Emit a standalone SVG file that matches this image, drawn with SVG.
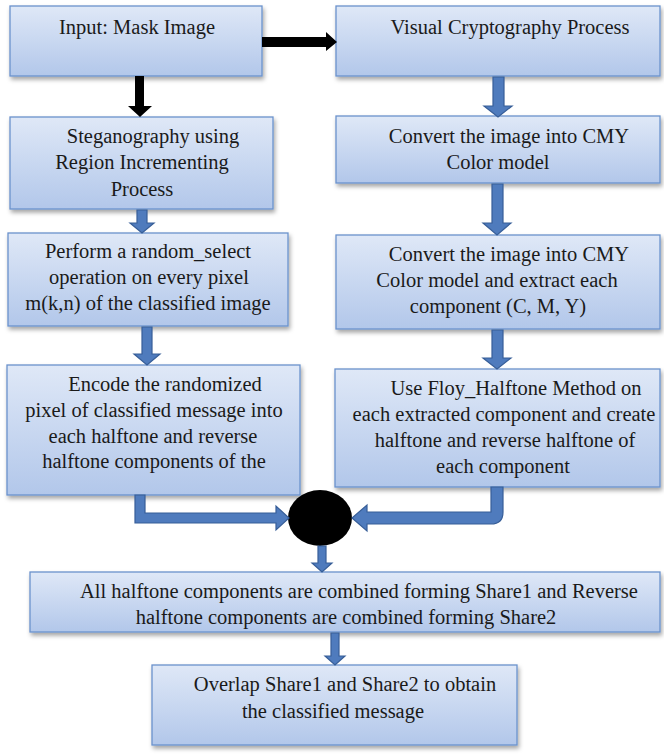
<svg xmlns="http://www.w3.org/2000/svg" width="664" height="754" viewBox="0 0 664 754">
  <defs>
    <linearGradient id="boxFill" x1="0" y1="0" x2="0" y2="1">
      <stop offset="0" stop-color="#dfe8f7"/>
      <stop offset="1" stop-color="#b2c7ea"/>
    </linearGradient>
    <filter id="shadow" x="-5%" y="-10%" width="112%" height="130%">
      <feDropShadow dx="1.5" dy="3" stdDeviation="2" flood-color="#000" flood-opacity="0.35"/>
    </filter>
  </defs>
  <style>
    .box { fill: url(#boxFill); stroke: #6a92cc; stroke-width: 1.3; filter: url(#shadow); }
    .lbl { font-size: 20.5px; fill: #1a1a1a; text-anchor: middle; }
    .blk { fill: #000; }
    .blu { fill: #4f7bbd; stroke: #375e98; stroke-width: 1.2; }
  </style>

  <!-- process steps -->
  <g font-family="'Liberation Serif', Tinos, 'Times New Roman', Times, 'DejaVu Serif', serif">
  <g id="input-mask">
    <rect class="box" x="10" y="6" width="252" height="70"/>
    <text class="lbl" x="137" y="34">Input: Mask Image</text>
  </g>
  <g id="vc-process">
    <rect class="box" x="336" y="6" width="324" height="70"/>
    <text class="lbl" x="510" y="34">Visual Cryptography Process</text>
  </g>
  <g id="steganography">
    <rect class="box" x="10" y="117" width="263" height="92"/>
    <text class="lbl" x="153" y="143">Steganography using</text>
    <text class="lbl" x="142" y="169">Region Incrementing</text>
    <text class="lbl" x="142" y="196">Process</text>
  </g>
  <g id="random-select">
    <rect class="box" x="8" y="233" width="280" height="93"/>
    <text class="lbl" x="148" y="258">Perform a random_select</text>
    <text class="lbl" x="149" y="284">operation on every pixel</text>
    <text class="lbl" x="148" y="310">m(k,n) of the classified image</text>
  </g>
  <g id="encode">
    <rect class="box" x="7" y="365" width="293" height="130"/>
    <text class="lbl" x="165" y="391">Encode the randomized</text>
    <text class="lbl" x="154" y="417">pixel of classified message into</text>
    <text class="lbl" x="153" y="443">each halftone and reverse</text>
    <text class="lbl" x="154" y="468">halftone components of the</text>
  </g>
  <g id="cmy-convert">
    <rect class="box" x="336" y="116" width="324" height="67"/>
    <text class="lbl" x="509" y="143">Convert the image into CMY</text>
    <text class="lbl" x="498" y="169">Color model</text>
  </g>
  <g id="cmy-extract">
    <rect class="box" x="336" y="235" width="324" height="94"/>
    <text class="lbl" x="509" y="261">Convert the image into CMY</text>
    <text class="lbl" x="497" y="287">Color model and extract each</text>
    <text class="lbl" x="498" y="313">component (C, M, Y)</text>
  </g>
  <g id="halftone">
    <rect class="box" x="335" y="369" width="325" height="118"/>
    <text class="lbl" x="516" y="395">Use Floy_Halftone Method on</text>
    <text class="lbl" x="504" y="421">each extracted component and create</text>
    <text class="lbl" x="505" y="447">halftone and reverse halftone of</text>
    <text class="lbl" x="503" y="473">each component</text>
  </g>
  <g id="join">
    <ellipse cx="320" cy="518" rx="32" ry="28" fill="#000"/>
  </g>
  <g id="combine-shares">
    <rect class="box" x="30" y="572" width="630" height="60"/>
    <text class="lbl" x="359" y="598">All halftone components are combined forming Share1 and Reverse</text>
    <text class="lbl" x="346" y="624">halftone components are combined forming Share2</text>
  </g>
  <g id="overlap">
    <rect class="box" x="152" y="665" width="365" height="80"/>
    <text class="lbl" x="345" y="691">Overlap Share1 and Share2 to obtain</text>
    <text class="lbl" x="333" y="718">the classified message</text>
  </g>
  </g>

  <!-- connectors -->
  <g id="connectors">
    <!-- black arrows from the input -->
    <polygon class="blk" points="262,37 326,37 326,32 337,42 326,51 326,47 262,47"/>
    <polygon class="blk" points="135,76 144,76 144,106 152,106 140,117 128,106 135,106"/>
    <!-- right column -->
    <polygon class="blu" points="493,77 504,77 504,106 512,106 498,117 484,106 493,106"/>
    <polygon class="blu" points="492,184 503,184 503,223 511,223 497,235 483,223 492,223"/>
    <polygon class="blu" points="492,330 503,330 503,358 511,358 497,369 483,358 492,358"/>
    <!-- left column -->
    <polygon class="blu" points="137,210 147,210 147,223 154,223 142,233 130,223 137,223"/>
    <polygon class="blu" points="142,327 152,327 152,354 160,354 147,365 134,354 142,354"/>
    <!-- into the join node -->
    <polygon class="blu" points="135,495 145,495 145,513 276,513 276,506 289,518 276,530 276,523 135,523"/>
    <path class="blu" d="M491,487 H503 V512 Q503,524 491,524 H367 V531 L352,518 L367,505 V512 H491 Z"/>
    <!-- join to shares, shares to overlap -->
    <polygon class="blu" points="318,546 326,546 326,563 332,563 322,572 312,563 318,563"/>
    <polygon class="blu" points="331,633 339,633 339,656 345,656 335,665 325,656 331,656"/>
  </g>
</svg>
